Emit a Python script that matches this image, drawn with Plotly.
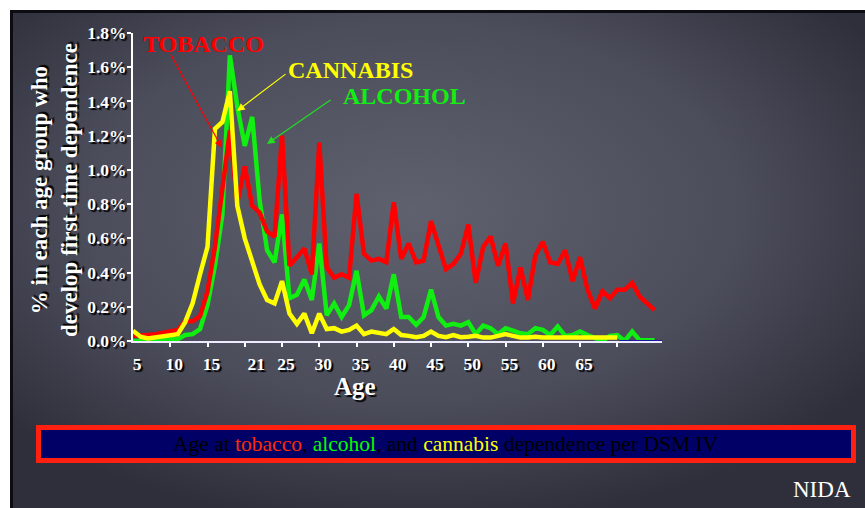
import base64
import plotly.graph_objects as go

# ---------------- data ----------------
ages_full = list(range(5, 76))
ages_cannabis = list(range(5, 71))

tobacco = [0.03, 0.03, 0.035, 0.04, 0.05, 0.055, 0.065, 0.115, 0.115, 0.145,
           0.29, 0.55, 0.90, 1.23, 0.81, 1.02, 0.79, 0.75, 0.64, 0.61,
           1.20, 0.44, 0.49, 0.54, 0.39, 1.16, 0.43, 0.37, 0.39, 0.37,
           0.86, 0.51, 0.47, 0.48, 0.46, 0.81, 0.48, 0.57, 0.46, 0.47,
           0.70, 0.57, 0.42, 0.45, 0.51, 0.68, 0.34, 0.55, 0.61, 0.44,
           0.57, 0.22, 0.43, 0.24, 0.50, 0.58, 0.46, 0.45, 0.53, 0.35,
           0.49, 0.30, 0.19, 0.29, 0.25, 0.30, 0.30, 0.34, 0.26, 0.22,
           0.18]

alcohol = [0.0, 0.0, 0.0, 0.005, 0.005, 0.01, 0.01, 0.035, 0.04, 0.07,
           0.21, 0.44, 0.74, 1.67, 1.37, 1.14, 1.31, 0.82, 0.53, 0.46,
           0.74, 0.25, 0.27, 0.36, 0.24, 0.57, 0.15, 0.22, 0.14, 0.21,
           0.41, 0.15, 0.18, 0.26, 0.19, 0.39, 0.14, 0.14, 0.095, 0.14,
           0.30, 0.14, 0.09, 0.10, 0.09, 0.11, 0.04, 0.09, 0.075, 0.04,
           0.075, 0.06, 0.045, 0.04, 0.075, 0.065, 0.035, 0.085, 0.03, 0.035,
           0.055, 0.035, 0.017, 0.0, 0.03, 0.035, 0.0, 0.055, 0.005, 0.005,
           0.005]

cannabis = [0.06, 0.025, 0.015, 0.02, 0.025, 0.03, 0.04, 0.11, 0.22, 0.39,
            0.55, 1.24, 1.28, 1.46, 0.79, 0.60, 0.46, 0.33, 0.24, 0.22,
            0.35, 0.16, 0.10, 0.16, 0.045, 0.16, 0.07, 0.075, 0.055, 0.065,
            0.09, 0.04, 0.055, 0.05, 0.04, 0.07, 0.035, 0.03, 0.022, 0.03,
            0.055, 0.03, 0.022, 0.035, 0.022, 0.025, 0.03, 0.02, 0.02, 0.03,
            0.04, 0.03, 0.02, 0.02, 0.025, 0.02, 0.02, 0.025, 0.02, 0.02,
            0.02, 0.02, 0.02, 0.02, 0.02, 0.02]

x_tick_vals = [5, 10, 15, 21, 25, 30, 35, 40, 45, 50, 55, 60, 65]
x_tick_text = [str(v) for v in x_tick_vals]
x_tick_marks = list(range(10, 75, 5))
y_tick_vals = [0.0, 0.2, 0.4, 0.6, 0.8, 1.0, 1.2, 1.4, 1.6, 1.8]
y_tick_text = ["0.0%", "0.2%", "0.4%", "0.6%", "0.8%", "1.0%", "1.2%", "1.4%", "1.6%", "1.8%"]

# ---------------- layout geometry ----------------
FW, FH = 865, 508
L, R, T, B = 133, 203, 33, 167
W = FW - L - R
H = FH - T - B


def px(x):
    return (x - L) / W


def py(y):
    return 1 - (y - T) / H


RED = "#ff0000"
GREEN = "#11ee11"
YELLOW = "#ffff00"
SERIF = "Liberation Serif"
SHADOW = "2px 2px 1px #000000"

# background slide as SVG gradient
svg = f"""<svg xmlns='http://www.w3.org/2000/svg' width='{FW}' height='{FH}' viewBox='0 0 {FW} {FH}'>
<defs><radialGradient id='g' cx='0.47' cy='0.40' r='0.64'>
<stop offset='0' stop-color='#5f616e'/>
<stop offset='0.6' stop-color='#4c4d5b'/>
<stop offset='1' stop-color='#2f2f3b'/>
</radialGradient></defs>
<rect width='{FW}' height='{FH}' fill='#ffffff'/>
<rect x='10' y='10' width='{FW-10}' height='{FH-10}' fill='#0c0c12'/>
<rect x='13' y='13' width='{FW-13}' height='{FH-13}' fill='url(#g)'/>
</svg>"""
bg_uri = "data:image/svg+xml;base64," + base64.b64encode(svg.encode()).decode()

fig = go.Figure()
fig.add_trace(go.Scatter(x=ages_full, y=alcohol, mode="lines", name="ALCOHOL",
                         line=dict(color=GREEN, width=4.5)))
fig.add_trace(go.Scatter(x=ages_full, y=tobacco, mode="lines", name="TOBACCO",
                         line=dict(color=RED, width=4.5)))
fig.add_trace(go.Scatter(x=ages_cannabis, y=cannabis, mode="lines", name="CANNABIS",
                         line=dict(color=YELLOW, width=4.5)))

tick_font = dict(family=SERIF, size=17.5, color="white", weight="bold", shadow=SHADOW)

fig.update_layout(
    width=FW, height=FH,
    margin=dict(l=L, r=R, t=T, b=B, pad=0),
    paper_bgcolor="white",
    plot_bgcolor="rgba(0,0,0,0)",
    showlegend=False,
    xaxis=dict(range=[5, 76], tickmode="array", tickvals=x_tick_vals, ticktext=x_tick_text,
               ticks="", showgrid=False, zeroline=False, showline=True,
               linecolor="#ecebff", linewidth=2, tickfont=tick_font,
               ticklabelshift=4, ticklabelstandoff=6,
               minor=dict(tickmode="array", tickvals=x_tick_marks, ticks="outside",
                          ticklen=4, tickcolor="white", tickwidth=1.5, showgrid=False)),
    yaxis=dict(range=[0, 1.8], tickmode="array", tickvals=y_tick_vals, ticktext=y_tick_text,
               ticks="outside", ticklen=4, ticklabelstandoff=-3,
               tickcolor="white", tickwidth=1.5, showgrid=False, zeroline=False,
               showline=True, linecolor="white", linewidth=2, tickfont=tick_font),
    images=[dict(source=bg_uri, xref="paper", yref="paper", x=px(0), y=py(0),
                 sizex=FW / W, sizey=FH / H, xanchor="left", yanchor="top",
                 sizing="stretch", layer="below")],
)

# navy tail of the axis line at the right
fig.add_shape(type="line", xref="x", yref="y", x0=70.3, x1=76, y0=0, y1=0,
              line=dict(color="#1a1a9a", width=2))

# bottom caption box
fig.add_shape(type="rect", xref="paper", yref="paper",
              x0=px(38.5), x1=px(853.5), y0=py(460.5), y1=py(427.5),
              line=dict(color="#ff2010", width=5), fillcolor="#000066", layer="above")

ann = []
# axis titles
ann.append(dict(xref="paper", yref="paper", x=px(54), y=py(190),
                text="% in each age group who<br>develop first-time dependence",
                textangle=-90, showarrow=False, xanchor="center", yanchor="middle",
                font=dict(family=SERIF, size=23, color="white", weight="bold", shadow=SHADOW)))
ann.append(dict(xref="paper", yref="paper", x=px(355), y=py(386), text="Age",
                showarrow=False, xanchor="center", yanchor="middle",
                font=dict(family=SERIF, size=25, color="white", weight="bold", shadow=SHADOW)))
# series labels
for txt, col, cx, cy in [("TOBACCO", RED, 203, 44), ("CANNABIS", YELLOW, 350, 70),
                         ("ALCOHOL", GREEN, 404, 96)]:
    ann.append(dict(xref="paper", yref="paper", x=px(cx), y=py(cy), text=txt,
                    showarrow=False, xanchor="center", yanchor="middle",
                    font=dict(family=SERIF, size=24, color=col, weight="bold")))
# arrows
for col, tx, ty, hx, hy in [(RED, 170, 53, 222, 148), (YELLOW, 287, 73, 237, 111),
                            ("#22dd22", 332, 99, 267, 144)]:
    ann.append(dict(xref="paper", yref="paper", x=px(hx), y=py(hy), ax=tx - hx, ay=ty - hy,
                    text="", showarrow=True, arrowhead=2, arrowsize=1.3, arrowwidth=1.2,
                    arrowcolor=col))
# caption
cap = ("Age at <span style='color:#ff2a00'>tobacco</span>, "
       "<span style='color:#00ff00'>alcohol</span>, and "
       "<span style='color:#ffff00'>cannabis</span> dependence per DSM IV")
ann.append(dict(xref="paper", yref="paper", x=px(446), y=py(444), text=cap,
                showarrow=False, xanchor="center", yanchor="middle",
                font=dict(family=SERIF, size=21.5, color="black")))
ann.append(dict(xref="paper", yref="paper", x=px(853), y=py(489), text="NIDA",
                showarrow=False, xanchor="right", yanchor="middle",
                font=dict(family=SERIF, size=23, color="white")))
fig.update_layout(annotations=ann)

fig.write_html("out.html")
